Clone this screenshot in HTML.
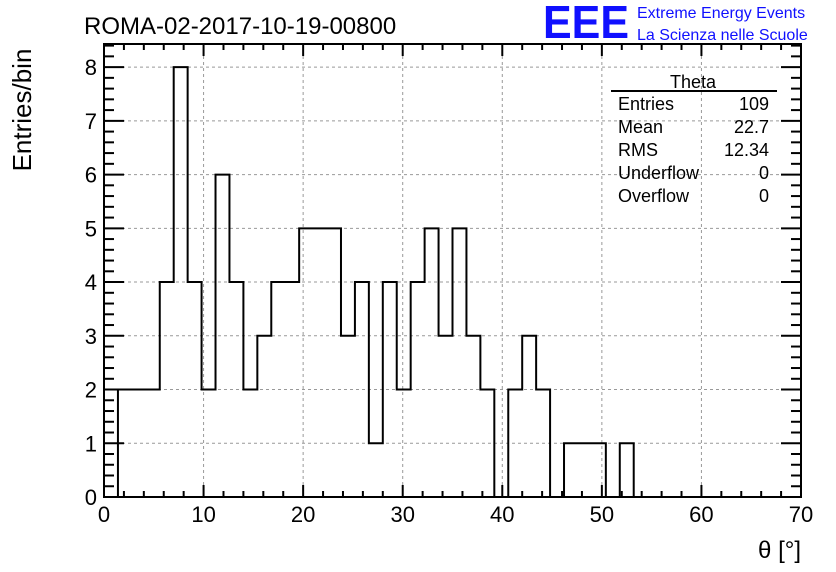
<!DOCTYPE html>
<html><head><meta charset="utf-8"><style>
body{margin:0;background:#fff}
svg{display:block;font-family:"Liberation Sans",sans-serif}
</style></head><body>
<svg id="c" width="836" height="572">
<rect width="836" height="572" fill="#fff"/>
<text x="84" y="34" font-size="24">ROMA-02-2017-10-19-00800</text>
<text x="543" y="38" font-size="46" fill="#1010ff" font-weight="bold" textLength="86" lengthAdjust="spacingAndGlyphs">EEE</text>
<text x="637" y="18" font-size="16" fill="#1010ff">Extreme Energy Events</text>
<text x="637" y="40" font-size="16" fill="#1010ff">La Scienza nelle Scuole</text>
<text transform="translate(31,110) rotate(-90)" font-size="26" text-anchor="middle">Entries/bin</text>
<text x="801" y="558" font-size="24" text-anchor="end">θ [°]</text>
<g id="grid"></g><g id="hist"></g><g id="axes"></g>
<g font-size="18">
<text x="693" y="88" text-anchor="middle">Theta</text>
<line x1="611" y1="91" x2="777" y2="91" stroke="#000" stroke-width="2"/>
<text x="618" y="110">Entries</text><text x="769" y="110" text-anchor="end">109</text>
<text x="618" y="133">Mean</text><text x="769" y="133" text-anchor="end">22.7</text>
<text x="618" y="156">RMS</text><text x="769" y="156" text-anchor="end">12.34</text>
<text x="618" y="179">Underflow</text><text x="769" y="179" text-anchor="end">0</text>
<text x="618" y="202">Overflow</text><text x="769" y="202" text-anchor="end">0</text>
</g>
</svg>
<script>
const binWidth = 1.4;
const counts = [0,2,2,2,4,8,4,2,6,4,2,3,4,4,5,5,5,3,4,1,4,2,4,5,3,5,3,2,0,2,3,2,0,1,1,1,0,1,0,0,0,0,0,0,0,0,0,0,0,0];
const xTicks = [0,10,20,30,40,50,60,70];
const yTicks = [0,1,2,3,4,5,6,7,8];
const L=104,R=801,T=44,B=497,XMAX=70,YMAX=8.43;
const sx=v=>L+v/XMAX*(R-L), sy=v=>B-v/YMAX*(B-T);
const NS="http://www.w3.org/2000/svg";
function mk(t,a,p){const e=document.createElementNS(NS,t);for(const k in a)e.setAttribute(k,a[k]);p.appendChild(e);return e;}
const grid=document.getElementById('grid'),hist=document.getElementById('hist'),axes=document.getElementById('axes');
xTicks.forEach(v=>{if(v>0&&v<XMAX){const l=mk('line',{x1:sx(v),x2:sx(v),y1:T,y2:B,stroke:'#999','stroke-dasharray':'3,3'},grid);

}});
yTicks.forEach(v=>{if(v>0){const l=mk('line',{x1:L,x2:R,y1:sy(v),y2:sy(v),stroke:'#999','stroke-dasharray':'3,3'},grid);

}});
let d='M'+L+' '+B;
counts.forEach((c,i)=>{const x0=sx(i*binWidth),x1=sx((i+1)*binWidth);d+=' L'+x0+' '+sy(c)+' L'+x1+' '+sy(c);});
d+=' L'+R+' '+B;
const p=mk('path',{d:d,fill:'none',stroke:'#000','stroke-width':2},hist);


const f=mk('rect',{x:L,y:T,width:R-L,height:B-T,fill:'none',stroke:'#000','stroke-width':2},axes);


for(let v=0;v<=XMAX;v+=2){const len=v%10===0?12:6;
mk('line',{x1:sx(v),x2:sx(v),y1:B,y2:B-len,stroke:'#000','stroke-width':2},axes);
mk('line',{x1:sx(v),x2:sx(v),y1:T,y2:T+len,stroke:'#000','stroke-width':2},axes);}
for(let k=0;k<=42;k++){const v=k*0.2;const len=k%5===0?20:10;
mk('line',{x1:L,x2:L+len,y1:sy(v),y2:sy(v),stroke:'#000','stroke-width':2},axes);
mk('line',{x1:R,x2:R-len,y1:sy(v),y2:sy(v),stroke:'#000','stroke-width':2},axes);}
xTicks.forEach(v=>{const t=mk('text',{x:sx(v),y:522,'font-size':22,'text-anchor':'middle'},axes);t.textContent=v;

});
yTicks.forEach(v=>{const t=mk('text',{x:97,y:sy(v)+8,'font-size':22,'text-anchor':'end'},axes);t.textContent=v;

});
</script>
</body></html>
